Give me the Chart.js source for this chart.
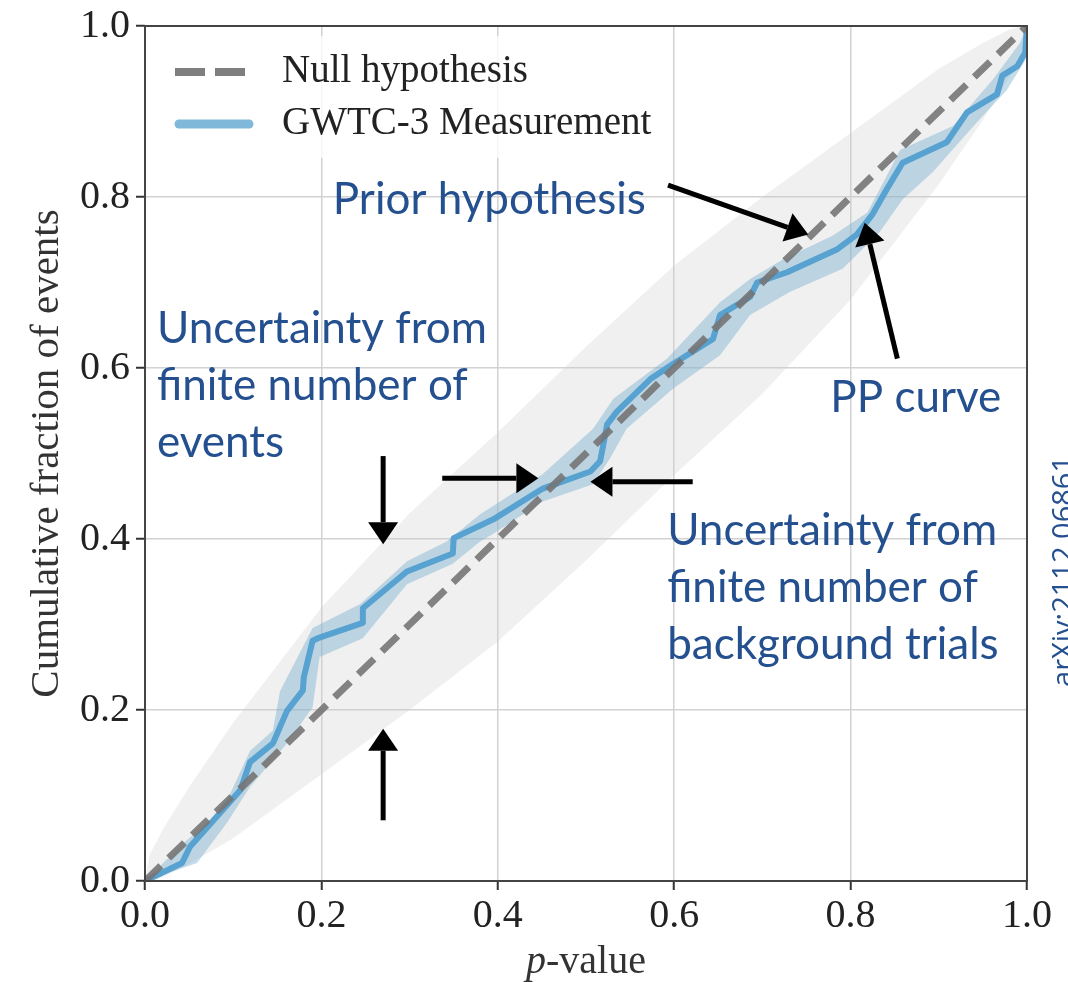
<!DOCTYPE html>
<html>
<head>
<meta charset="utf-8">
<script src="https://cdn.jsdelivr.net/npm/chart.js@4"></script>
<style>
  html, body { margin: 0; padding: 0; background: #fff; }
  #wrap { width: 1068px; height: 982px; }
</style>
</head>
<body>
<div id="wrap"><canvas id="pp-chart" width="1068" height="982"></canvas></div>
<script>
// ---- data ----
const tickValues = [0, 0.2, 0.4, 0.6, 0.8, 1.0];

// PP curve (p-value vs cumulative fraction)
const ppX = [0, 0.042, 0.051, 0.108, 0.119, 0.145, 0.161, 0.179, 0.180, 0.190, 0.196, 0.247, 0.247, 0.297, 0.349, 0.350, 0.395, 0.451, 0.505, 0.516, 0.524, 0.535, 0.573, 0.599, 0.644, 0.652, 0.686, 0.694, 0.728, 0.785, 0.807, 0.825, 0.841, 0.859, 0.909, 0.932, 0.966, 0.972, 0.989, 0.998, 1.0];
const ppY = [0, 0.021, 0.040, 0.106, 0.139, 0.161, 0.199, 0.223, 0.238, 0.281, 0.284, 0.302, 0.319, 0.362, 0.383, 0.401, 0.423, 0.459, 0.479, 0.491, 0.534, 0.549, 0.587, 0.605, 0.634, 0.662, 0.683, 0.700, 0.712, 0.739, 0.756, 0.780, 0.809, 0.840, 0.864, 0.899, 0.920, 0.942, 0.953, 0.969, 1.0];

// blue band: uncertainty from background trials
const bandUpX = [0, 0.043, 0.088, 0.119, 0.145, 0.153, 0.190, 0.244, 0.297, 0.342, 0.380, 0.451, 0.508, 0.531, 0.592, 0.652, 0.686, 0.723, 0.780, 0.819, 0.837, 0.856, 0.916, 0.961, 0.992, 1.0];
const bandUpY = [0, 0.044, 0.083, 0.152, 0.176, 0.222, 0.296, 0.324, 0.374, 0.397, 0.429, 0.476, 0.529, 0.564, 0.611, 0.677, 0.704, 0.727, 0.755, 0.782, 0.817, 0.855, 0.883, 0.937, 0.980, 1.0];
const bandLoX = [0, 0.059, 0.093, 0.119, 0.161, 0.190, 0.198, 0.247, 0.297, 0.349, 0.380, 0.395, 0.451, 0.508, 0.527, 0.546, 0.599, 0.652, 0.686, 0.731, 0.791, 0.833, 0.859, 0.893, 0.943, 0.977, 0.998, 1.0];
const bandLoY = [0, 0.021, 0.068, 0.110, 0.161, 0.203, 0.262, 0.284, 0.347, 0.371, 0.397, 0.406, 0.444, 0.464, 0.494, 0.529, 0.576, 0.615, 0.662, 0.689, 0.716, 0.759, 0.797, 0.829, 0.887, 0.925, 0.960, 1.0];

// grey band: uncertainty from finite number of events
const grayX  = [0, 0.005, 0.02, 0.05, 0.1, 0.2, 0.3, 0.4, 0.5, 0.6, 0.7, 0.8, 0.9, 0.95, 0.98, 0.995, 1];
const grayUp = [0, 0.03, 0.06, 0.11, 0.185, 0.32, 0.43, 0.525, 0.625, 0.72, 0.80, 0.875, 0.95, 0.98, 0.996, 1.0, 1];
const grayLo = [0, 0.0, 0.004, 0.02, 0.05, 0.125, 0.20, 0.28, 0.375, 0.475, 0.57, 0.68, 0.815, 0.89, 0.94, 0.97, 1];

// null hypothesis diagonal
const nullX = [0, 1];
const nullY = [0, 1];

// annotations (data units; y = text baseline)
const notes = [
  { lines: ['Prior hypothesis'], x: 0.213, y: 0.780 },
  { lines: ['Uncertainty from', 'finite number of', 'events'], x: 0.0136, y: 0.629 },
  { lines: ['PP curve'], x: 0.777, y: 0.548 },
  { lines: ['Uncertainty from', 'finite number of', 'background trials'], x: 0.592, y: 0.393 }
];
// [x0, y0, x1, y1] tail -> head
const arrows = [
  [0.593, 0.814, 0.752, 0.756],
  [0.853, 0.611, 0.816, 0.770],
  [0.270, 0.497, 0.270, 0.394],
  [0.270, 0.071, 0.270, 0.178],
  [0.337, 0.471, 0.446, 0.471],
  [0.621, 0.467, 0.505, 0.467]
];

const pts = (xs, ys) => xs.map((v, i) => ({ x: v, y: ys[i] }));
// closed polygons for the bands
const grayPoly = pts(grayX, grayUp).concat(pts(grayX, grayLo).reverse());
const bluePoly = pts(bandUpX, bandUpY).concat(pts(bandLoX, bandLoY).reverse());

const SERIF = '"Liberation Serif", "DejaVu Serif", serif';
const NOTE_FONT = '44px Lato, "Open Sans", sans-serif';
const NOTE_COLOR = '#24508f';

function drawArrow(ctx, x0, y0, x1, y1) {
  const ang = Math.atan2(y1 - y0, x1 - x0);
  const hl = 22, hw = 15;
  const bx = x1 - hl * Math.cos(ang), by = y1 - hl * Math.sin(ang);
  ctx.beginPath();
  ctx.moveTo(x0, y0);
  ctx.lineTo(bx, by);
  ctx.lineWidth = 5;
  ctx.strokeStyle = '#000';
  ctx.stroke();
  ctx.beginPath();
  ctx.moveTo(x1, y1);
  ctx.lineTo(bx + hw * Math.sin(ang), by - hw * Math.cos(ang));
  ctx.lineTo(bx - hw * Math.sin(ang), by + hw * Math.cos(ang));
  ctx.closePath();
  ctx.fillStyle = '#000';
  ctx.fill();
}

const overlay = {
  id: 'overlay',
  afterDraw(chart) {
    const { ctx, chartArea: a, scales: { x, y } } = chart;
    ctx.save();

    /* frame */
    ctx.strokeStyle = '#444';
    ctx.lineWidth = 2;
    ctx.strokeRect(a.left, a.top, a.right - a.left, a.bottom - a.top);

    /* legend */
    ctx.fillStyle = 'rgba(255,255,255,0.8)';
    ctx.fillRect(a.left + 12, a.top + 10, 512, 122);
    ctx.lineCap = 'butt';
    ctx.setLineDash([30, 10]);
    ctx.strokeStyle = '#7f7f7f';
    ctx.lineWidth = 8;
    ctx.beginPath();
    ctx.moveTo(a.left + 30, a.top + 46);
    ctx.lineTo(a.left + 108, a.top + 46);
    ctx.stroke();
    ctx.setLineDash([]);
    ctx.lineCap = 'round';
    ctx.strokeStyle = '#7fb8d8';
    ctx.lineWidth = 9;
    ctx.beginPath();
    ctx.moveTo(a.left + 34, a.top + 98);
    ctx.lineTo(a.left + 104, a.top + 98);
    ctx.stroke();
    ctx.lineCap = 'butt';
    ctx.fillStyle = '#222';
    ctx.font = '39px ' + SERIF;
    ctx.textBaseline = 'middle';
    ctx.textAlign = 'left';
    ctx.fillText('Null hypothesis', a.left + 137, a.top + 46);
    ctx.fillText('GWTC-3 Measurement', a.left + 137, a.top + 98);

    /* axis titles */
    ctx.fillStyle = '#333';
    ctx.font = '41px ' + SERIF;
    ctx.save();
    ctx.translate(47, (a.top + a.bottom) / 2);
    ctx.rotate(-Math.PI / 2);
    ctx.textAlign = 'center';
    ctx.fillText('Cumulative fraction of events', 0, 0);
    ctx.restore();
    const pFont = 'italic 40px ' + SERIF, rFont = '40px ' + SERIF;
    ctx.font = pFont;
    const wP = ctx.measureText('p').width;
    ctx.font = rFont;
    const wR = ctx.measureText('-value').width;
    const xs = (a.left + a.right) / 2 - (wP + wR) / 2;
    ctx.textAlign = 'left';
    ctx.font = pFont;
    ctx.fillText('p', xs, 962);
    ctx.font = rFont;
    ctx.fillText('-value', xs + wP, 962);

    /* annotations */
    ctx.font = NOTE_FONT;
    ctx.fillStyle = NOTE_COLOR;
    ctx.textBaseline = 'alphabetic';
    notes.forEach(n => {
      const px = x.getPixelForValue(n.x), py = y.getPixelForValue(n.y);
      n.lines.forEach((t, i) => ctx.fillText(t, px, py + i * 57));
    });
    arrows.forEach(([x0, y0, x1, y1]) =>
      drawArrow(ctx, x.getPixelForValue(x0), y.getPixelForValue(y0),
                x.getPixelForValue(x1), y.getPixelForValue(y1)));

    /* arXiv tag (cut at the right edge) */
    ctx.save();
    ctx.translate(x.getPixelForValue(1.043), y.getPixelForValue(0.362));
    ctx.rotate(-Math.PI / 2);
    ctx.font = '29px "Open Sans", sans-serif';
    ctx.fillStyle = NOTE_COLOR;
    ctx.textAlign = 'center';
    ctx.textBaseline = 'middle';
    ctx.fillText('arXiv:2112.06861', 0, 0);
    ctx.restore();

    ctx.restore();
  }
};

const axisCommon = {
  type: 'linear',
  min: 0,
  max: 1,
  afterBuildTicks: s => { s.ticks = tickValues.map(v => ({ value: v })); },
  ticks: {
    callback: v => v.toFixed(1),
    font: { family: SERIF, size: 40, lineHeight: 1 },
    color: '#222'
  },
  grid: { color: '#d2d2d2', lineWidth: 1.5, tickLength: 9, tickColor: '#333', tickWidth: 2 },
  border: { display: false }
};

new Chart(document.getElementById('pp-chart').getContext('2d'), {
  type: 'scatter',
  data: {
    datasets: [
      {
        label: 'Null hypothesis',
        data: pts(nullX, nullY),
        showLine: true,
        borderColor: 'rgba(118,118,118,0.9)',
        borderWidth: 7,
        borderDash: [22, 11],
        pointRadius: 0,
        order: 0
      },
      {
        label: 'GWTC-3 Measurement',
        data: pts(ppX, ppY),
        showLine: true,
        borderColor: '#57a2d0',
        borderWidth: 6,
        borderJoinStyle: 'round',
        pointRadius: 0,
        order: 1
      },
      {
        label: 'background band',
        data: bluePoly,
        showLine: true,
        fill: 'shape',
        borderColor: 'rgba(0,0,0,0)',
        borderWidth: 0,
        backgroundColor: 'rgba(110,170,205,0.4)',
        pointRadius: 0,
        order: 2
      },
      {
        label: 'events band',
        data: grayPoly,
        showLine: true,
        fill: 'shape',
        borderColor: 'rgba(0,0,0,0)',
        borderWidth: 0,
        backgroundColor: 'rgba(205,205,205,0.3)',
        pointRadius: 0,
        order: 3
      }
    ]
  },
  options: {
    responsive: false,
    animation: false,
    layout: { padding: { top: 23, right: 41, left: 0, bottom: 0 } },
    plugins: { legend: { display: false }, tooltip: { enabled: false } },
    scales: {
      x: Object.assign({}, axisCommon, {
        ticks: Object.assign({}, axisCommon.ticks, { padding: 6 }),
        afterFit: s => { s.height = 101; }
      }),
      y: Object.assign({}, axisCommon, {
        ticks: Object.assign({}, axisCommon.ticks, { padding: 6 }),
        afterFit: s => { s.width = 145; }
      })
    }
  },
  plugins: [overlay]
});
</script>
</body>
</html>
